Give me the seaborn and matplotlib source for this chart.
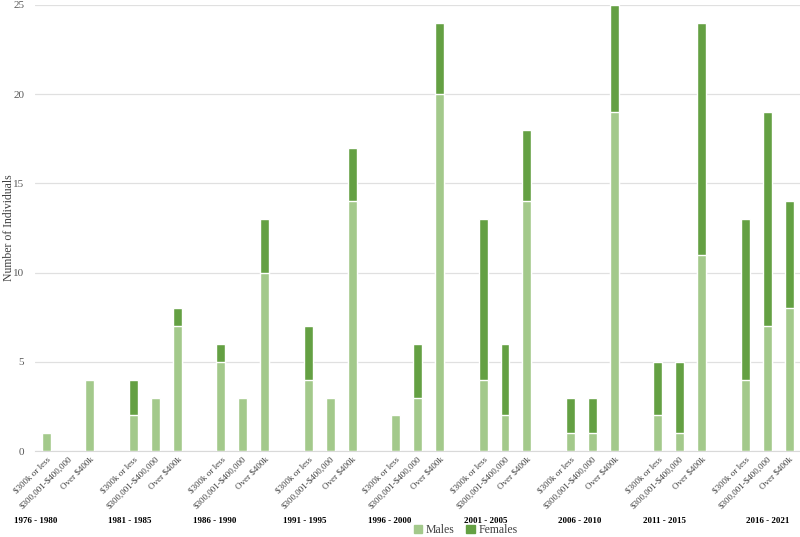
import pandas as pd
import matplotlib.pyplot as plt
import seaborn as sb

# data
periods = ['1976 - 1980', '1981 - 1985', '1986 - 1990', '1991 - 1995', '1996 - 2000',
           '2001 - 2005', '2006 - 2010', '2011 - 2015', '2016 - 2021']
price_bands = ['$300k or less', '$300,001-$400,000', 'Over $400k']

# one value per (period, price band), in that order
males = [1, 0, 4,
         2, 3, 7,
         5, 3, 10,
         4, 3, 14,
         2, 3, 20,
         4, 2, 14,
         1, 1, 19,
         2, 1, 11,
         4, 7, 8]
females = [0, 0, 0,
           2, 0, 1,
           1, 0, 3,
           3, 0, 3,
           0, 3, 4,
           9, 4, 4,
           2, 2, 6,
           3, 4, 13,
           9, 12, 6]

y_ticks = [0, 5, 10, 15, 20, 25]

# build a long table; every period takes 3 slots plus one empty slot as gap
rows = []
for i, period in enumerate(periods):
    for j, band in enumerate(price_bands):
        k = i * 3 + j
        rows.append({'slot': i * 4 + j, 'period': period, 'band': band,
                     'Males': males[k], 'Females': females[k],
                     'Total': males[k] + females[k]})
df = pd.DataFrame(rows)
n_slots = len(periods) * 4 - 1

light_green = '#a3c98b'
dark_green = '#64a043'

sb.set_style('white')
plt.rcParams['font.family'] = ['Liberation Serif', 'DejaVu Serif']

fig = plt.figure(figsize=(8, 5.37), dpi=100)
ax = fig.add_axes([0.044, 0.16, 0.956, 0.831])

order = list(range(n_slots))
# stacked bars: totals first (females colour), males drawn over them
sb.barplot(data=df, x='slot', y='Total', order=order, color=dark_green,
           width=0.41, saturation=1, ax=ax, zorder=3)
sb.barplot(data=df, x='slot', y='Males', order=order, color=light_green,
           width=0.41, saturation=1, ax=ax, zorder=3)

ax.set_ylim(0, 25)
ax.set_xlim(-0.5, n_slots - 0.5)
ax.set_yticks(y_ticks)
ax.set_yticklabels([str(t) for t in y_ticks], fontsize=8, color='#595959')
ax.yaxis.grid(True, color='#e0e0e0', linewidth=0.9, zorder=0)
ax.tick_params(axis='both', length=0, pad=8)
ax.tick_params(axis='x', pad=3)

# escape the dollar signs so they are not read as mathtext
ax.set_xticks(df['slot'])
ax.set_xticklabels([b.replace('$', r'\$') for b in df['band']], rotation=45, ha='right',
                   rotation_mode='anchor', fontsize=6.5, color='#404040')
ax.set_xlabel('')
ax.set_ylabel('Number of Individuals', fontsize=8.5, color='#404040')
ax.yaxis.set_label_coords(-0.027, 0.5)

for side in ['left', 'right', 'top']:
    ax.spines[side].set_visible(False)
ax.spines['bottom'].set_color('#d9d9d9')

# period labels under each group of bars
label_x = [-0.5, 3.84, 7.73, 11.85, 15.74, 20.14, 24.44, 28.28, 33.04]
for x, period in zip(label_x, periods):
    ax.text(x, -0.157, period, transform=ax.get_xaxis_transform(), ha='center',
            va='center', fontsize=6.5, fontweight='bold', color='black')

handles = [plt.Rectangle((0, 0), 1, 1, color=light_green),
           plt.Rectangle((0, 0), 1, 1, color=dark_green)]
fig.legend(handles, ['Males', 'Females'], loc='center', ncol=2,
           bbox_to_anchor=(0.582, 0.013), frameon=False, fontsize=8.5,
           handlelength=0.7, handleheight=0.7, handletextpad=0.3, columnspacing=1.0,
           labelcolor='#404040', borderpad=0)

plt.savefig('out.png', dpi=100)
